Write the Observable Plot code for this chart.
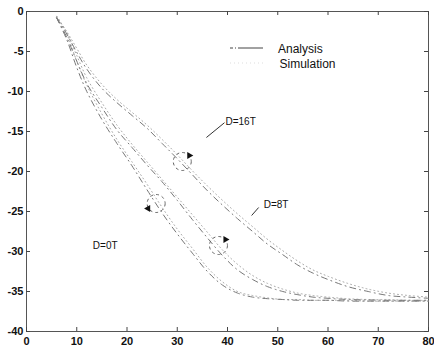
<!DOCTYPE html>
<html><head><meta charset="utf-8">
<script src="https://cdn.jsdelivr.net/npm/d3@7"></script>
<script src="https://cdn.jsdelivr.net/npm/@observablehq/plot@0.6"></script>
<style>
body{margin:0;background:#fff;font-family:"Liberation Sans",Arial,sans-serif}
#chart svg{display:block}
</style>
</head><body><div id="chart"></div>
<script>
// ---- data ----
const iterations = [6,8,10,12,15,18,21,24,27,30,33,36,39,42,45,48,51,54,57,60,64,68,72,76,80];

const analysis0T  = [-0.8,-3.5,-7,-10,-13.5,-16.5,-19.3,-22.3,-25.2,-27.8,-30.2,-32.5,-34.2,-35.2,-35.7,-35.9,-36,-36.1,-36.1,-36.1,-36.2,-36.2,-36.2,-36.2,-36.2];
const simulation0T= [-0.6,-2.8,-6.2,-9.2,-12.8,-16,-18.8,-21.6,-24.5,-27.2,-29.6,-32,-33.8,-35,-35.5,-35.8,-36,-36,-36.1,-36.1,-36.1,-36.2,-36.2,-36.2,-36.2];

const analysis8T  = [-0.8,-3.2,-6.2,-9,-12,-14.8,-17,-19.2,-21.3,-23.6,-26,-28.3,-30.5,-32.3,-33.5,-34.4,-35,-35.4,-35.7,-35.85,-36,-36.05,-36.1,-36.1,-36.1];
const simulation8T= [-0.6,-2.6,-5.5,-8.3,-11.4,-14.2,-16.6,-18.8,-21,-23.2,-25.4,-27.6,-29.8,-31.6,-33,-34,-34.7,-35.2,-35.5,-35.7,-35.9,-36,-36,-36.1,-36.1];

const analysis16T  = [-0.8,-2.8,-5.1,-7.2,-9.6,-11.4,-13,-14.6,-16.5,-18.4,-20.4,-22.4,-24.2,-25.9,-27.5,-29.1,-30.4,-31.7,-32.7,-33.5,-34.4,-35,-35.5,-35.7,-35.85];
const simulation16T= [-0.6,-2.5,-4.6,-6.7,-9.1,-11,-12.6,-14.2,-16,-17.9,-19.9,-21.8,-23.6,-25.3,-26.9,-28.5,-29.9,-31.2,-32.3,-33.1,-34,-34.7,-35.2,-35.5,-35.7];

const xTicks = [0,10,20,30,40,50,60,70,80];
const yTicks = [0,-5,-10,-15,-20,-25,-30,-35,-40];
const legendLabels = ["Analysis","Simulation"];

// annotation labels (text, x, y) and pointer segments
const labelTexts = ["D=16T","D=8T","D=0T"];
const labelX = [39.6, 47.2, 13.2];
const labelY = [-13.75, -24.1, -29.25];
const pointerX1 = [39.4, 46.2], pointerY1 = [-13.9, -24.5];
const pointerX2 = [35.8, 44.8], pointerY2 = [-15.75, -25.5];
// loops marking each pair of curves
const loopX = [31, 38.2, 25.8];
const loopY = [-18.75, -29.25, -24];

// ---- build tables ----
const series = [
  {D:"D=0T", analysis:analysis0T, simulation:simulation0T},
  {D:"D=8T", analysis:analysis8T, simulation:simulation8T},
  {D:"D=16T", analysis:analysis16T, simulation:simulation16T}
];
const ana = [], sim = [];
for (const s of series) iterations.forEach((x,i) => {
  ana.push({D:s.D, x, y:s.analysis[i]});
  sim.push({D:s.D, x, y:s.simulation[i]});
});
const labels = labelTexts.map((t,i)=>({t, x:labelX[i], y:labelY[i]}));
const pointers = pointerX1.map((_,i)=>({x1:pointerX1[i],y1:pointerY1[i],x2:pointerX2[i],y2:pointerY2[i]}));
const loops = loopX.map((x,i)=>({x, y:loopY[i]}));
const arrowStyle = [{dx:7, dy:-6, rotate:90}, {dx:7, dy:-6, rotate:90}, {dx:-8, dy:5, rotate:-90}];
const arrowMarks = loops.map((d,i)=> Plot.dot([d], {x:"x", y:"y", dx:arrowStyle[i].dx, dy:arrowStyle[i].dy,
  symbol:"triangle", r:2.6, fill:"#111", rotate:arrowStyle[i].rotate}));

const W = 434, H = 350, mL = 26, mR = 6, mT = 11, mB = 19;
const fw = W - mL - mR, fh = H - mT - mB;

const chart = Plot.plot({
  width: W, height: H,
  marginLeft: mL, marginRight: mR, marginTop: mT, marginBottom: mB,
  style: {fontFamily: '"Liberation Sans", Arial, sans-serif', background: "#fff", color: "#111"},
  x: {domain: [0, 80], axis: null},
  y: {domain: [-40, 0], axis: null},
  marks: [
    Plot.frame({stroke: "#555", strokeWidth: 1}),
    // inward ticks on all four sides
    Plot.tickX(xTicks, {x: d=>d, insetTop: fh - 4, stroke: "#444"}),
    Plot.tickX(xTicks, {x: d=>d, insetBottom: fh - 4, stroke: "#444"}),
    Plot.tickY(yTicks, {y: d=>d, insetRight: fw - 4, stroke: "#444"}),
    Plot.tickY(yTicks, {y: d=>d, insetLeft: fw - 4, stroke: "#444"}),
    // tick labels
    Plot.text(xTicks, {x: d=>d, frameAnchor: "bottom", lineAnchor: "top", dy: 6, text: d=>`${d}`,
      fontSize: 11, fontWeight: "bold", fill: "#111"}),
    Plot.text(yTicks, {y: d=>d, frameAnchor: "left", textAnchor: "end", dx: -3, text: d=>`${d}`,
      fontSize: 11, fontWeight: "bold", fill: "#111"}),
    // curves
    Plot.line(sim, {x:"x", y:"y", z:"D", curve:"catmull-rom", stroke:"#aaa", strokeWidth:1, strokeDasharray:"1,3"}),
    Plot.line(ana, {x:"x", y:"y", z:"D", curve:"catmull-rom", stroke:"#777", strokeWidth:1, strokeDasharray:"6,4,1,4"}),
    // annotations
    Plot.dot(loops, {x:"x", y:"y", r:9, stroke:"#666", strokeWidth:1, strokeDasharray:"3,3", fill:"none"}),
    ...arrowMarks,
    Plot.link(pointers, {x1:"x1", y1:"y1", x2:"x2", y2:"y2", stroke:"#333", strokeWidth:1}),
    Plot.text(labels, {x:"x", y:"y", text:"t", textAnchor:"start", fontSize:10, fill:"#111"})
  ]
});

// legend (upper right, inside the frame)
const svg = d3.select(chart);
const lg = svg.append("g").attr("font-family", '"Liberation Sans", Arial, sans-serif')
  .attr("font-size", 12).attr("fill", "#111").attr("text-anchor", "start");
const legendStroke = [{stroke:"#444", dash:"3,2,1,2,40"}, {stroke:"#ddd", dash:"1,3"}];
legendLabels.forEach((t,i) => {
  const y = 48 + i*15;
  lg.append("line").attr("x1", 230).attr("x2", 263).attr("y1", y).attr("y2", y)
    .attr("stroke", legendStroke[i].stroke).attr("stroke-dasharray", legendStroke[i].dash);
  lg.append("text").attr("x", 278 + i*1.5).attr("y", y + 4.5).text(t);
});

document.getElementById("chart").appendChild(chart);
</script>
</body></html>
